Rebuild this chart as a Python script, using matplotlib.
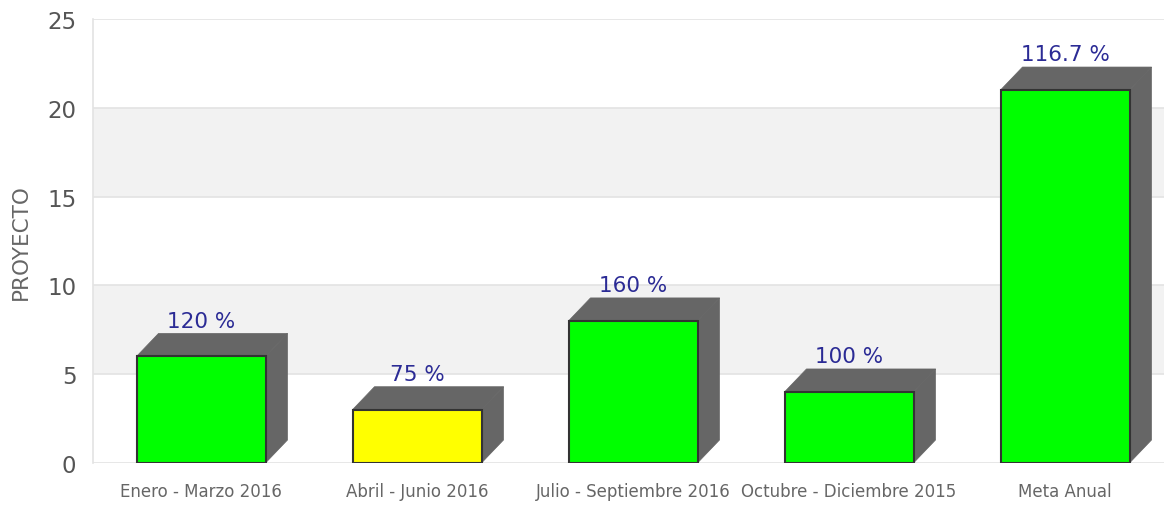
import matplotlib

matplotlib.use("Agg")
import matplotlib.pyplot as plt
from matplotlib.patches import Polygon

categories = ["Enero - Marzo 2016", "Abril - Junio 2016", "Julio - Septiembre 2016",
              "Octubre - Diciembre 2015", "Meta Anual"]
values = [6, 3, 8, 4, 21]
pct_labels = ["120 %", "75 %", "160 %", "100 %", "116.7 %"]
bar_colors = ["#00ff00", "#ffff00", "#00ff00", "#00ff00", "#00ff00"]
y_ticks = [0, 5, 10, 15, 20, 25]

W, H = 1164, 506
fig = plt.figure(figsize=(W / 100, H / 100), dpi=100)
# plot area runs off the right edge in the original
ax = fig.add_axes([93 / W, 1 - 464 / H, (1173 - 93) / W, (464 - 20) / H])
ax.set_xlim(-0.5, 4.5)
ax.set_ylim(0, 25)

# alternating bands + grid
for i, (lo, hi) in enumerate(zip(y_ticks[:-1], y_ticks[1:])):
    if i % 2 == 1:
        ax.axhspan(lo, hi, color="#f2f2f2", zorder=0, lw=0)
for t in y_ticks:
    ax.axhline(t, color="#e3e3e3", lw=1.2, zorder=1)

bar_w = 129 / 216
dx = 22 / 216
dy = 23 / (444 / 25)
shade = "#666666"
for i, (v, c, lab) in enumerate(zip(values, bar_colors, pct_labels)):
    x0, x1 = i - bar_w / 2, i + bar_w / 2
    top = Polygon([(x0, v), (x0 + dx, v + dy), (x1 + dx, v + dy), (x1, v)],
                  closed=True, facecolor=shade, edgecolor=shade, lw=0.5, zorder=2)
    side = Polygon([(x1, 0), (x1, v), (x1 + dx, v + dy), (x1 + dx, dy)],
                   closed=True, facecolor=shade, edgecolor=shade, lw=0.5, zorder=2)
    ax.add_patch(top)
    ax.add_patch(side)
    ax.bar(i, v, width=bar_w, color=c, edgecolor="#333333", lw=1.5, zorder=3)
    ax.annotate(lab, (i, v + dy), xytext=(0, 2), textcoords="offset points",
                ha="center", va="bottom", fontsize=15.5, color="#2b2b95", zorder=4)

ax.set_yticks(y_ticks)
ax.set_xticks(range(len(categories)))
ax.set_xticklabels(categories, fontsize=12, color="#666666")
ax.tick_params(axis="y", length=0, pad=12, labelsize=16.5, labelcolor="#555555")
ax.tick_params(axis="x", length=0, pad=14)
ax.set_ylabel("PROYECTO", fontsize=15.5, color="#666666", labelpad=12)
for name, sp in ax.spines.items():
    sp.set_visible(name == "left")
ax.spines["left"].set_color("#e3e3e3")
ax.spines["left"].set_linewidth(1.2)

fig.savefig("out.png", dpi=100)
